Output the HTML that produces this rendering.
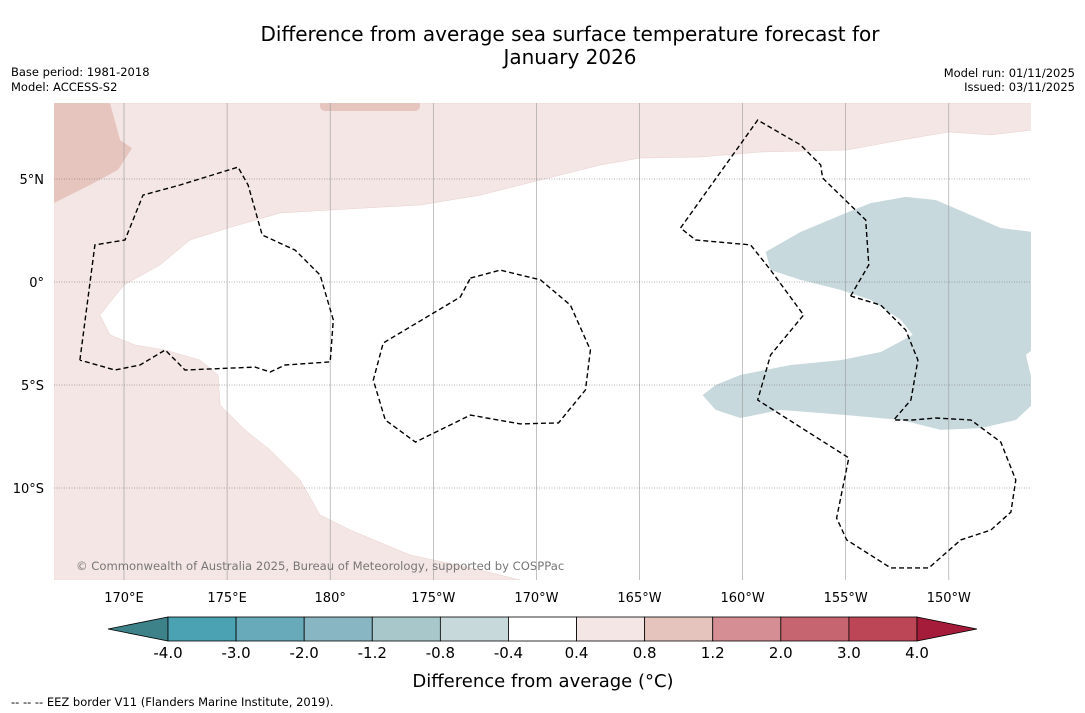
<!DOCTYPE html>
<html><head><meta charset="utf-8">
<style>
body{margin:0;background:#fff;font-family:"Liberation Sans","DejaVu Sans",sans-serif;}
svg{display:block}
text{font-family:"DejaVu Sans","Liberation Sans",sans-serif;}
</style></head>
<body>
<svg id="chart" width="1085" height="713" viewBox="0 0 1085 713" xmlns="http://www.w3.org/2000/svg">
<rect width="1085" height="713" fill="#fff"/>
<text x="570" y="41" font-size="20" text-anchor="middle">Difference from average sea surface temperature forecast for</text>
<text x="570" y="64" font-size="20" text-anchor="middle">January 2026</text>
<text x="11" y="76" font-size="11.5">Base period: 1981-2018</text>
<text x="11" y="91" font-size="11.5">Model: ACCESS-S2</text>
<text x="1075" y="77" font-size="11.5" text-anchor="end">Model run: 01/11/2025</text>
<text x="1075" y="91" font-size="11.5" text-anchor="end">Issued: 03/11/2025</text>
<defs><clipPath id="mapclip"><rect x="54" y="103" width="977" height="477"/></clipPath></defs>
<g id="map" clip-path="url(#mapclip)"></g>
<g id="axes"></g>
<text x="76" y="570" font-size="11.6" fill="#777">© Commonwealth of Australia 2025, Bureau of Meteorology, supported by COSPPac</text>
<g id="cbar"></g>
<text x="543" y="687" font-size="18" text-anchor="middle">Difference from average (°C)</text>
<text x="11" y="706" font-size="11.5">--  --  -- EEZ border V11 (Flanders Marine Institute, 2019).</text>
</svg>
<script>
const lonTicks=[170,175,180,185,190,195,200,205,210];
const lonLabels=["170°E","175°E","180°","175°W","170°W","165°W","160°W","155°W","150°W"];
const latTicks=[5,0,-5,-10];
const latLabels=["5°N","0°","5°S","10°S"];
const cbarBounds=[-4.0,-3.0,-2.0,-1.2,-0.8,-0.4,0.4,0.8,1.2,2.0,3.0,4.0];
const cbarLabels=["-4.0","-3.0","-2.0","-1.2","-0.8","-0.4","0.4","0.8","1.2","2.0","3.0","4.0"];
const cbarColors=["#4aa2b2","#68aab9","#88b6c2","#a8c7cb","#c8d9dc","#ffffff","#f4e6e4","#e6c4be","#d48e94","#c6646f","#bd4656"];
const pinkLon=[166.6,214.03,214.03,212.04,210,207.67,205.05,200.87,197.96,195.05,193.1,190.2,187.28,184.37,180.05,177.57,175.05,173.2,171.75,170,168.83,169.32,170.53,172,173.69,174.56,174.66,175.87,177.09,178.54,179.51,180.97,183.88,187.28,189.22,166.6];
const pinkLat=[8.69,8.69,7.38,7.14,7.28,6.89,6.41,6.31,6.07,6.02,5.68,4.95,4.22,3.74,3.5,3.35,2.62,2.04,0.83,-0.15,-1.6,-2.57,-3.06,-3.3,-3.79,-4.51,-5.97,-7.18,-8.16,-9.61,-11.31,-12.04,-13.25,-13.98,-14.47,-14.47];
const darkPinkLon=[166.6,169.32,169.81,170.39,169.71,168.35,166.6];
const darkPinkLat=[8.69,8.69,6.89,6.5,5.44,4.71,3.83];
const bluLon=[201.12,202.82,204.76,206.21,207.91,209.37,211.07,212.52,214.03,214.03,213.74,214.03,214.03,213.25,211.55,209.61,207.67,205.05,201.84,199.9,198.69,198.06,198.69,199.9,202.33,204.76,206.7,208.25,207.67,206.21,204.76,202.82,201.36];
const bluLat=[1.46,2.43,3.25,3.83,4.13,3.98,3.25,2.62,2.43,-3.3,-3.54,-4.76,-5.97,-6.7,-7.09,-7.18,-6.7,-6.46,-6.21,-6.6,-6.21,-5.49,-5,-4.51,-4.03,-3.79,-3.4,-2.57,-1.84,-0.87,-0.39,0.1,0.58];
const eezA_lon=[167.86,168.59,170.05,170.92,172.72,175.53,176.02,176.7,178.3,179.51,180.15,180,177.82,177.09,176.36,172.96,172,170.78,169.56,167.86];
const eezA_lat=[-3.79,1.8,2.04,4.22,4.71,5.58,4.71,2.28,1.55,0.34,-1.84,-3.88,-4.03,-4.37,-4.13,-4.27,-3.3,-4.03,-4.27,-3.79];
const eezB_lon=[186.8,188.25,190.2,191.65,192.62,192.38,191.07,189.22,186.8,184.13,182.67,182.09,182.57,186.31,186.8];
const eezB_lat=[0.19,0.58,0.1,-1.12,-3.3,-5.24,-6.84,-6.89,-6.46,-7.77,-6.7,-4.76,-2.96,-0.73,0.19];
const eezC_lon=[205.24,206.12,205.97,203.88,203.79,202.82,200.73,196.99,197.72,200.39,201.36,202.96,201.36,200.73,205.15,204.56,205.05,207.18,209.03,210.58,212.04,213.01,213.25,212.52,211.07,209.37,208.25,207.33,208.16,208.5,207.91,206.7,205.24];
const eezC_lat=[-0.68,0.83,3.01,5.05,5.68,6.65,7.86,2.62,2.04,1.8,0.58,-1.6,-3.54,-5.73,-8.54,-11.46,-12.52,-13.88,-13.88,-12.52,-12.04,-11.17,-9.61,-7.77,-6.7,-6.6,-6.7,-6.7,-5.73,-3.79,-2.33,-1.12,-0.68];

const X=lon=>124+(lon-170)*103.1/5;
const Y=lat=>282-lat*103/5;
const NS="http://www.w3.org/2000/svg";
const map=document.getElementById('map'),axes=document.getElementById('axes'),cbar=document.getElementById('cbar');
function mk(tag,attrs,parent){const e=document.createElementNS(NS,tag);for(const k in attrs)e.setAttribute(k,attrs[k]);parent.appendChild(e);return e;}
function pts(lo,la){return lo.map((v,i)=>X(v).toFixed(1)+','+Y(la[i]).toFixed(1)).join(' ');}

let p=mk('polygon',{points:pts(pinkLon,pinkLat),fill:'#f4e6e4',stroke:'#e8d0cc','stroke-width':0.5},map);

p=mk('polygon',{points:pts(darkPinkLon,darkPinkLat),fill:'#e6c5be'},map);

p=mk('rect',{x:320,y:100,width:100,height:11,rx:5,fill:'#e6c5be'},map);

p=mk('polygon',{points:pts(bluLon,bluLat),fill:'#c8d9dd'},map);


lonTicks.forEach((t,i)=>{
  const l=mk('line',{x1:X(t),x2:X(t),y1:103,y2:580,stroke:'#999','stroke-width':0.6},map);
  
  const tx=mk('text',{x:X(t),y:602,'font-size':13,'text-anchor':'middle'},axes);tx.textContent=lonLabels[i];
  
});
latTicks.forEach((t,i)=>{
  const l=mk('line',{x1:54,x2:1031,y1:Y(t),y2:Y(t),stroke:'#666','stroke-width':0.6,'stroke-dasharray':'1,1.5'},map);
  
  const tx=mk('text',{x:44,y:Y(t)+5,'font-size':13,'text-anchor':'end'},axes);tx.textContent=latLabels[i];
  
});
[[eezA_lon,eezA_lat],[eezB_lon,eezB_lat],[eezC_lon,eezC_lat]].forEach(a=>{
  const e=mk('polyline',{points:pts(a[0],a[1]),fill:'none',stroke:'#000','stroke-width':1.4,'stroke-dasharray':'5,3'},map);
  
});

const cx0=168,cx1=917,cy=617,ch=24;
const bw=(cx1-cx0)/cbarColors.length;
const lt=mk('polygon',{points:`108,${cy+ch/2} ${cx0},${cy} ${cx0},${cy+ch}`,fill:'#3d8189',stroke:'#000','stroke-width':0.8},cbar);

cbarColors.forEach((c,i)=>{
  const r=mk('rect',{x:cx0+i*bw,y:cy,width:bw,height:ch,fill:c,stroke:'#000','stroke-width':0.8},cbar);
  
});
const rt=mk('polygon',{points:`${cx1},${cy} 977,${cy+ch/2} ${cx1},${cy+ch}`,fill:'#a51c3a',stroke:'#000','stroke-width':0.8},cbar);

cbarBounds.forEach((b,i)=>{
  const t=mk('text',{x:cx0+i*bw,y:658,'font-size':15,'text-anchor':'middle'},cbar);t.textContent=cbarLabels[i];
  
});
</script>
</body></html>
